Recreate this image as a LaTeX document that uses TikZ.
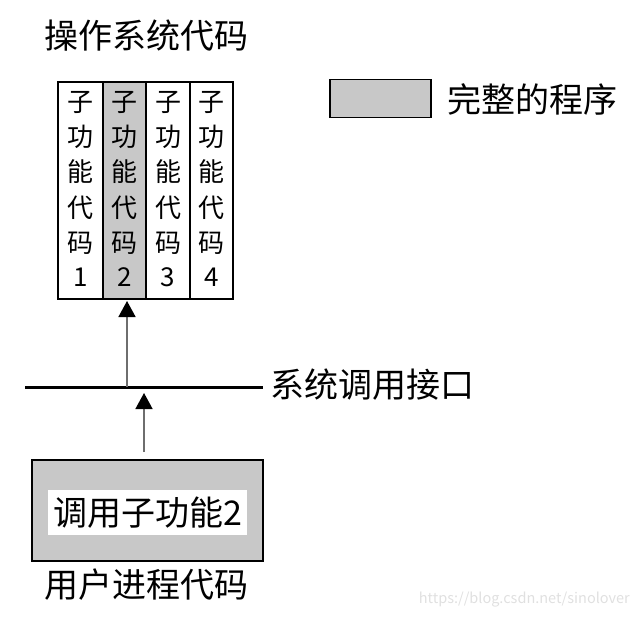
\documentclass[tikz,border=0pt]{standalone}
\usepackage{fontspec}
\setmainfont{Noto Sans CJK SC}
\usetikzlibrary{arrows.meta}
\definecolor{fillgray}{RGB}{200,200,200}
\definecolor{linegray}{RGB}{110,110,110}
\tikzset{
  box/.style={draw=black, line width=1.6pt},
  colchar/.style={inner sep=0pt, font=\fontsize{26}{26}\selectfont},
  lbl/.style={inner sep=0pt, anchor=west, font=\fontsize{34}{34}\selectfont},
  uparrow/.style={draw=linegray, line width=1.6pt, -{Triangle[length=16pt,width=17pt,fill=black,color=black]}},
}
\begin{document}
\begin{tikzpicture}[x=1pt,y=-1pt]
\useasboundingbox (0,0) rectangle (640,619);
% title
\node[lbl] (title) at (44,36) {操作系统代码};
% columns
\fill[fillgray] (103,82) rectangle (146,299);
\draw[box] (58,82) rectangle (233,299);
\draw[box] (103,82) -- (103,299);
\draw[box] (146,82) -- (146,299);
\draw[box] (190,82) -- (190,299);
\coordinate (colbot) at (127,301);
\foreach \x/\n in {80.5/1,124.5/2,168/3,211.5/4}{
  \node[colchar] (c\n a) at (\x,102) {子};
  \node[colchar] (c\n b) at (\x,137) {功};
  \node[colchar] (c\n c) at (\x,172) {能};
  \node[colchar] (c\n d) at (\x,208) {代};
  \node[colchar] (c\n e) at (\x,243) {码};
  \node[colchar] (c\n f) at (\x,277) {\n};
}
% legend
\node[box, fill=fillgray, minimum width=101pt, minimum height=38pt, inner sep=0pt] (legbox) at (380.5,98.5) {};
\node[lbl] (legtxt) at (447,99) {完整的程序};
% system call line
\coordinate (lineL) at (25,387);
\coordinate (lineR) at (263,387);
\draw[line width=3pt] (lineL) -- (lineR);
\node[lbl] (sctxt) at (270,385) {系统调用接口};
\coordinate (a1s) at (127,387);
\draw[uparrow] (a1s) -- (colbot);
% user process box
\node[box, fill=fillgray, minimum width=231pt, minimum height=101pt, inner sep=0pt] (ubox) at (147.5,510.5) {};
\node[fill=white, minimum width=199pt, minimum height=45pt, inner sep=0pt, font=\fontsize{34}{34}\selectfont] (utxt) at (147.5,512.5) {调用子功能2};
\coordinate (a2s) at (144,452);
\coordinate (a2e) at (144,393);
\draw[uparrow] (a2s) -- (a2e);
\node[lbl] (utitle) at (44,585) {用户进程代码};
% watermark
\node[inner sep=0pt, anchor=east, text=black!12, font=\fontsize{14.5}{14.5}\selectfont] (wm) at (630,600) {https://blog.csdn.net/sinolover};
\end{tikzpicture}
\end{document}
